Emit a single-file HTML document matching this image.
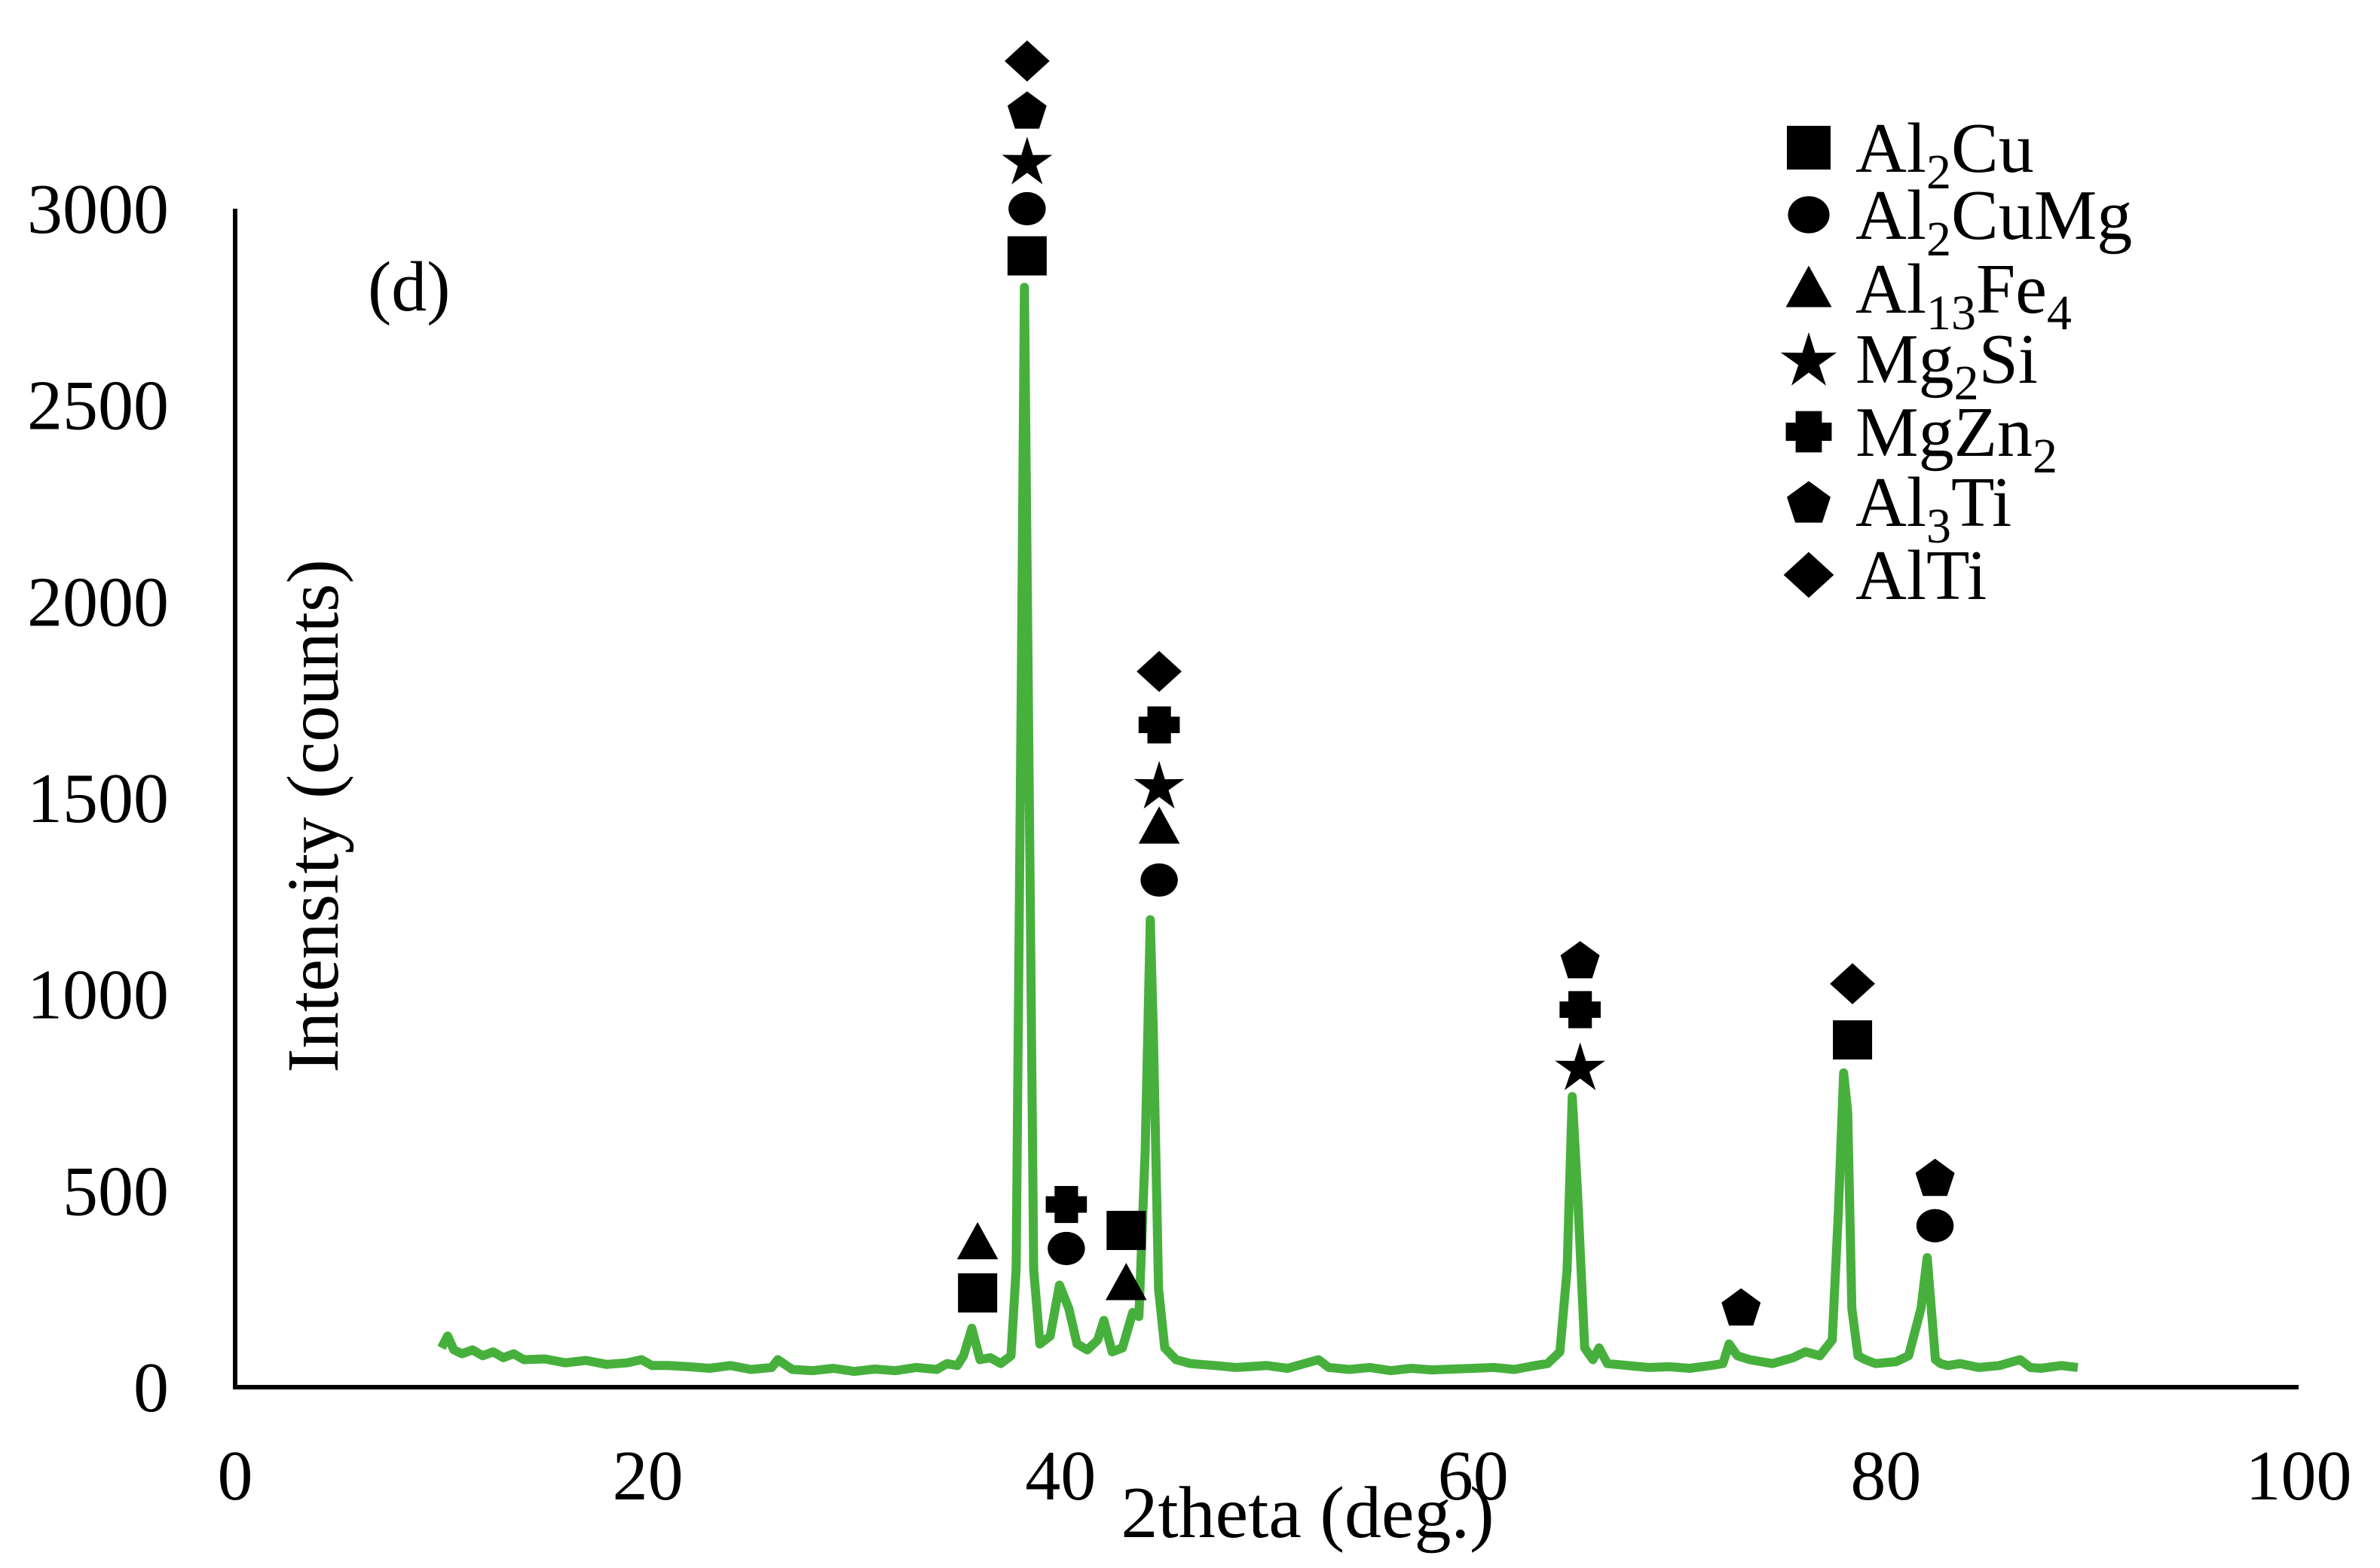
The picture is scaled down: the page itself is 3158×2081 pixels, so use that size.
<!DOCTYPE html>
<html><head><meta charset="utf-8"><style>
html,body{margin:0;padding:0;background:#fff}
svg{display:block}
text{font-family:"Liberation Serif",serif;fill:#000}
</style></head><body>
<svg id="chart" width="3158" height="2081" viewBox="0 0 3158 2081" xmlns="http://www.w3.org/2000/svg">
<g id="axes"></g>
<g id="series"></g>
<g id="markers"></g>
<text x="488" y="412" font-size="94">(d)</text>
<text transform="translate(448,1083) rotate(-90)" text-anchor="middle" font-size="97">Intensity (counts)</text>
<text x="1735" y="2040" text-anchor="middle" font-size="98">2theta (deg.)</text>
<g id="legend"></g>
</svg>
<script>
const xTicks=[0,20,40,60,80,100];
const yTicks=[0,500,1000,1500,2000,2500,3000];
const twoTheta=[10,10.3,10.6,11,11.5,12,12.5,13,13.5,14,15,16,17,18,19,19.7,20.2,21,22,23,24,25,26,26.3,27,28,29,30,31,32,33,34,34.5,35,35.3,35.7,36.1,36.6,37.1,37.6,37.85,38.1,38.25,38.45,38.7,39.0,39.5,39.95,40.4,40.8,41.3,41.8,42.1,42.5,43.0,43.5,43.8,44.1,44.35,44.5,44.75,45.05,45.6,46.3,47.5,48.5,50,51,52.5,53,54,55,56,57,58,59,60,61,62,63,63.6,64.2,64.55,64.8,65.05,65.4,65.8,66.1,66.5,67.5,68.5,69.5,70.5,71.5,72.1,72.4,72.8,73.4,74.5,75.5,76.1,76.8,77.4,77.7,77.95,78.15,78.35,78.65,79.0,79.5,80.5,81.1,81.7,82.0,82.2,82.4,82.65,83.0,83.6,84.5,85.5,86.5,87,87.5,88.5,89.3,90];
const intensity=[100,130,95,85,95,80,90,75,85,70,72,62,68,58,62,70,55,55,52,48,55,45,50,70,45,42,48,40,46,42,50,45,60,55,80,150,70,75,60,80,300,1800,2800,1700,300,110,130,260,200,110,95,120,170,90,100,190,180,600,1190,900,250,100,70,60,55,50,55,48,70,50,45,50,42,48,44,46,48,50,45,55,60,90,300,740,500,100,70,100,60,55,50,52,48,55,60,110,80,70,60,75,90,80,120,450,800,700,200,80,70,60,65,80,200,330,200,70,60,55,60,50,55,70,50,48,55,50];
const mkX=[38.6,38.6,38.6,38.6,38.6,45.0,45.0,45.0,45.0,45.0,36.2,36.2,40.5,40.5,43.4,43.4,65.4,65.4,65.4,73.2,78.6,78.6,82.6,82.6];
const mkY=[2880,3000,3124,3252,3376,1291,1426,1535,1686,1822,240,368,353,465,399,264,818,961,1089,205,884,1027,411,535];
const mkType=['square','circle','star','pentagon','diamond','circle','triangle','star','plus','diamond','square','triangle','circle','plus','square','triangle','star','plus','pentagon','pentagon','square','diamond','circle','pentagon'];
const legendTypes=['square','circle','triangle','star','plus','pentagon','diamond'];
const legendLabels=[['Al','2','Cu'],['Al','2','CuMg'],['Al','13','Fe','4'],['Mg','2','Si'],['MgZn','2'],['Al','3','Ti'],['AlTi']];

const NS='http://www.w3.org/2000/svg';
const X0=312,X1=3050,Y0=1841,Y3000=277;
const sx=v=>X0+(v-0)*(X1-X0)/100;
const sy=v=>Y0-v*(Y0-Y3000)/3000;
function mk(tag,attrs,parent){const e=document.createElementNS(NS,tag);for(const k in attrs)e.setAttribute(k,attrs[k]);parent.appendChild(e);return e;}
const axes=document.getElementById('axes');
let yl=mk('line',{x1:X0,y1:Y3000,x2:X0,y2:Y0+3,stroke:'#000','stroke-width':6},axes);


let xl=mk('line',{x1:X0-3,y1:Y0,x2:X1,y2:Y0,stroke:'#000','stroke-width':6},axes);


xTicks.forEach(t=>{const e=mk('text',{x:sx(t),y:1990,'text-anchor':'middle','font-size':94},axes);e.textContent=t;

});
yTicks.forEach(t=>{const e=mk('text',{x:224,y:sy(t)+32,'text-anchor':'end','font-size':94},axes);e.textContent=t;

});
const series=document.getElementById('series');
let d=twoTheta.map((x,i)=>(i?'L':'M')+sx(x).toFixed(1)+' '+sy(intensity[i]).toFixed(1)).join(' ');
let p=mk('path',{d:d,fill:'none',stroke:'#47b03d','stroke-width':12,'stroke-linejoin':'round'},series);


function shape(type,cx,cy,s,parent){
 let e;const r=s/2;
 if(type==='square')e=mk('rect',{x:cx-r,y:cy-r,width:s,height:s,fill:'#000'},parent);
 else if(type==='circle')e=mk('ellipse',{cx:cx,cy:cy,rx:r*0.95,ry:r*0.85,fill:'#000'},parent);
 else if(type==='triangle')e=mk('polygon',{points:`${cx},${cy-r*1.05} ${cx+r*1.05},${cy+r*0.85} ${cx-r*1.05},${cy+r*0.85}`,fill:'#000'},parent);
 else if(type==='diamond')e=mk('polygon',{points:`${cx},${cy-r*1.05} ${cx+r*1.15},${cy} ${cx},${cy+r*1.05} ${cx-r*1.15},${cy}`,fill:'#000'},parent);
 else if(type==='pentagon'){let pts=[];for(let i=0;i<5;i++){const a=-Math.PI/2+i*2*Math.PI/5;pts.push((cx+r*1.05*Math.cos(a)).toFixed(1)+','+(cy+r*1.05*Math.sin(a)+3).toFixed(1));}e=mk('polygon',{points:pts.join(' '),fill:'#000'},parent);}
 else if(type==='star'){let pts=[];for(let i=0;i<10;i++){const a=-Math.PI/2+i*Math.PI/5;const rr=i%2?r*0.5:r*1.35;pts.push((cx+rr*Math.cos(a)).toFixed(1)+','+(cy+rr*Math.sin(a)+4).toFixed(1));}e=mk('polygon',{points:pts.join(' '),fill:'#000'},parent);}
 else if(type==='plus'){const a=r*1.05,b=r*0.6;e=mk('polygon',{points:`${cx-b},${cy-a*0.9} ${cx+b},${cy-a*0.9} ${cx+b},${cy-b*0.7} ${cx+a},${cy-b*0.7} ${cx+a},${cy+b*0.7} ${cx+b},${cy+b*0.7} ${cx+b},${cy+a*0.9} ${cx-b},${cy+a*0.9} ${cx-b},${cy+b*0.7} ${cx-a},${cy+b*0.7} ${cx-a},${cy-b*0.7} ${cx-b},${cy-b*0.7}`,fill:'#000'},parent);}
 return e;
}
const markers=document.getElementById('markers');
mkX.forEach((x,i)=>{const e=shape(mkType[i],sx(x)-6,sy(mkY[i]),52,markers);

});
const legend=document.getElementById('legend');
const rowY=[196,285,383,476,573,666,763];
legendTypes.forEach((t,i)=>{
 const g=mk('g',{},legend);
 
 
 shape(t,2400,rowY[i],58,g);
 const tx=mk('text',{x:2462,y:rowY[i]+32,'font-size':94},g);
 legendLabels[i].forEach((s,j)=>{const ts=document.createElementNS(NS,'tspan');ts.textContent=s;
  const sub=(legendLabels[i].length>1&&j%2===1);
  if(sub){ts.setAttribute('font-size','66');ts.setAttribute('dy','22');}
  else if(j>0){ts.setAttribute('dy','-22');}
  tx.appendChild(ts);});
});
</script>
</body></html>
